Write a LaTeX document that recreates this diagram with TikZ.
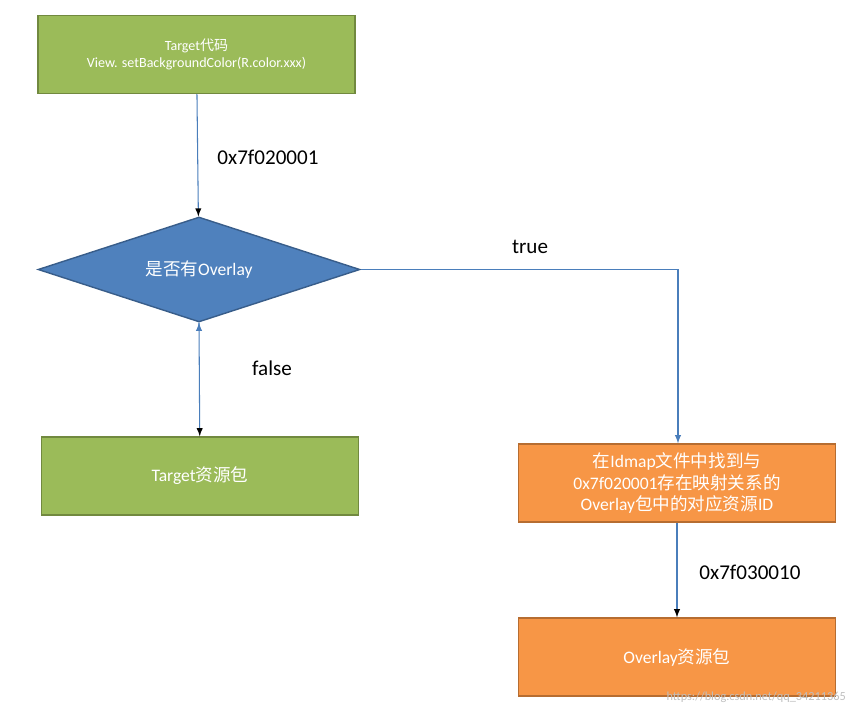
\documentclass[tikz,border=0pt]{standalone}
\usepackage{fontspec}
\setmainfont{Carlito}
\newfontfamily\cjk{Noto Sans CJK SC}
\newcommand{\cn}[1]{{\cjk #1}}
\usetikzlibrary{shapes.geometric,arrows}
\definecolor{grn}{HTML}{9BBB59}
\definecolor{grnl}{HTML}{71893F}
\definecolor{blu}{HTML}{4F81BD}
\definecolor{blul}{HTML}{385D8A}
\definecolor{org}{HTML}{F79646}
\definecolor{orgl}{HTML}{B66D31}
\definecolor{lnk}{HTML}{4A7EBB}
\tikzset{box/.style={draw,line width=0.8pt,minimum width=6.34cm,minimum height=1.56cm,
    text=white,align=center,inner sep=1pt}}
\begin{document}
\begin{tikzpicture}[x=0.02cm,y=-0.02cm,>=latex,
    lbl/.style={font=\fontsize{12}{14}\selectfont}]
\useasboundingbox (0,0) rectangle (859,717);
\node[box,fill=grn,draw=grnl,font=\fontsize{8}{10}\selectfont] (code) at (196.5,54.5)
    {Target\cn{代码}\\View. setBackgroundColor(R.color.xxx)};
\node[diamond,draw=blul,fill=blu,line width=0.8pt,minimum width=6.44cm,minimum height=2.1cm,
    aspect=3,inner sep=0pt,text=white,font=\fontsize{10}{12}\selectfont] (ovl) at (199,269.5)
    {\cn{是否有}Overlay};
\node[box,fill=grn,draw=grnl,font=\fontsize{10}{12}\selectfont] (tgt) at (200,476) {Target\cn{资源包}};
\node[box,fill=org,draw=orgl,font=\fontsize{10}{12}\selectfont] (find) at (677,483)
    {\cn{在}Idmap\cn{文件中找到与}\\0x7f020001\cn{存在映射关系的}\\Overlay\cn{包中的对应资源}ID};
\node[box,fill=org,draw=orgl,font=\fontsize{10}{12}\selectfont] (res) at (677,657) {Overlay\cn{资源包}};
\coordinate (turn) at (678,269.5);

\path[->,draw=lnk,line width=0.6pt]
(code) edge (ovl)
(ovl.south) edge (tgt)
(find) edge (res);
\draw[->,draw=lnk,line width=0.6pt] (ovl.east) -- (turn) -- (find.north -| turn);

\node[lbl] (l1) at (268,157) {0x7f020001};
\node[lbl] (l2) at (272,368) {false};
\node[lbl] (l3) at (530,247) {true};
\node[lbl] (l4) at (750,572) {0x7f030010};
\node[text=gray!50,font=\fontsize{7}{8}\selectfont,anchor=east] (wm) at (852,697) {https://blog.csdn.net/qq\_34211365};
\end{tikzpicture}
\end{document}
